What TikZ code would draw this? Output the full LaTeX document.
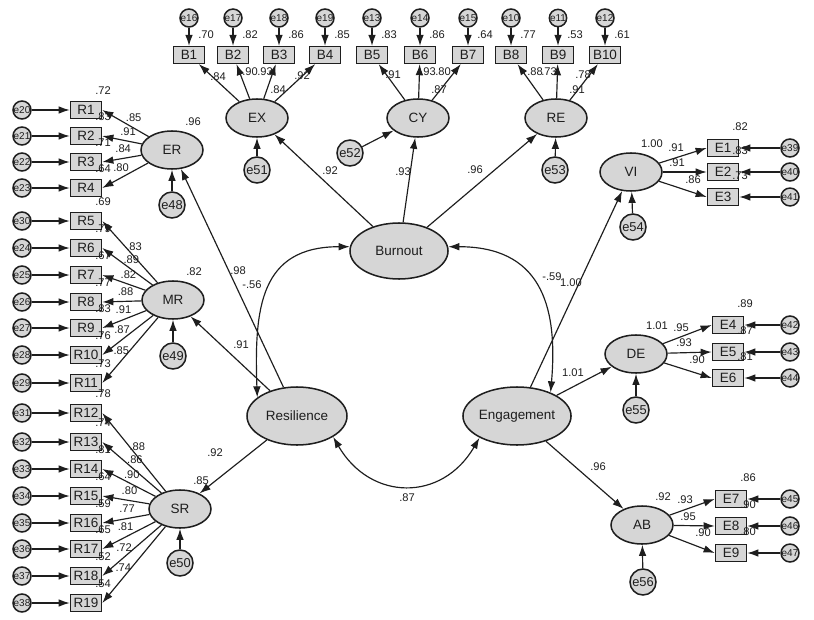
\documentclass[tikz,border=0pt]{standalone}
\usepackage{fontspec}
\setmainfont{Liberation Sans}
\usepackage{tikz}
\usetikzlibrary{shapes,arrows.meta,calc}
\definecolor{semfill}{RGB}{214,214,214}
\definecolor{semink}{RGB}{30,30,30}
\tikzset{
  lat/.style={ellipse,draw,line width=1.3pt,fill=semfill,inner sep=0pt,minimum width=1.86cm,minimum height=1.14cm,font=\fontsize{11.5}{12}\selectfont},
  big/.style={minimum width=3cm,minimum height=1.74cm},
  obs/.style={rectangle,draw,line width=1.3pt,fill=semfill,minimum width=0.93cm,minimum height=0.5cm,inner sep=0pt,font=\fontsize{11.5}{12}\selectfont},
  err/.style={circle,draw,line width=1.3pt,fill=semfill,minimum size=0.51cm,inner sep=0pt,font=\fontsize{8.5}{9}\selectfont},
  dist/.style={circle,draw,line width=1.3pt,fill=semfill,minimum size=0.78cm,inner sep=0pt,font=\fontsize{11}{12}\selectfont},
  num/.style={inner sep=0pt,font=\fontsize{9.5}{10}\selectfont}
}

\begin{document}
\begin{tikzpicture}[x=0.03cm,y=-0.03cm,->,>={Latex[length=9.5pt,width=6.5pt]},line width=1pt,draw=semink,text=semink]
\useasboundingbox (0,0) rectangle (814,620);

\node[lat,minimum width=2.94cm,minimum height=1.68cm] (Burnout) at (399,251) {Burnout};
\node[lat,big] (Resilience) at (297,416) {Resilience};
\node[lat,big] (Engagement) at (517,416) {Engagement};

\node[lat] (EX) at (257,118) {EX};
\node[lat] (CY) at (418,118) {CY};
\node[lat] (RE) at (556,118) {RE};
\node[lat] (ER) at (172,150) {ER};
\node[lat] (MR) at (173,300) {MR};
\node[lat] (SR) at (180,509) {SR};
\node[lat] (VI) at (631,172) {VI};
\node[lat] (DE) at (636,354) {DE};
\node[lat] (AB) at (642,525) {AB};

\node[dist] (e48) at (172,205) {e48};
\node[dist] (e49) at (173,356) {e49};
\node[dist] (e50) at (180,563) {e50};
\node[dist] (e51) at (257,170) {e51};
\node[dist] (e52) at (350,153) {e52};
\node[dist] (e53) at (555,170) {e53};
\node[dist] (e54) at (633,227) {e54};
\node[dist] (e55) at (636,410) {e55};
\node[dist] (e56) at (643,582) {e56};

\path (e48) edge (ER) (e49) edge (MR) (e50) edge (SR)
      (e51) edge (EX) (e52) edge (CY) (e53) edge (RE)
      (e54) edge (VI) (e55) edge (DE) (e56) edge (AB);
\path (Burnout) edge (EX) edge (CY) edge (RE)
      (Resilience) edge (ER) edge (MR) edge (SR)
      (Engagement) edge (VI) edge (DE) edge (AB);
\path[<->] (Resilience.155) edge[out=92,in=180,looseness=1.3] (Burnout.175)
      (Burnout.5) edge[out=0,in=85,looseness=1.3] (Engagement.35)
      (Resilience.-30) edge[out=-60,in=240,looseness=1.3] (Engagement.210);

\foreach \bi/\bx/\en/\rs in {1/189/16/.70,2/233/17/.82,3/279/18/.86,4/325/19/.85,5/372/13/.83,6/420/14/.86,7/468/15/.64,8/511/10/.77,9/558/11/.53,10/605/12/.61}{
  \node[obs] (B\bi) at (\bx,55) {B\bi};
  \node[err] (e\en) at (\bx,18) {e\en};
  \draw (e\en) -- (B\bi);
  \node[num] at (\bx+17,35) {\rs};
}
\foreach \fa/\bi/\dx/\dy/\ld in {EX/1/-39/-41/.84,EX/2/-7/-46/.90,EX/3/8/-46/.93,EX/4/45/-42/.92,CY/5/-25/-43/.91,CY/6/10/-46/.93,CY/7/25/-46/.80,RE/8/-21/-46/.88,RE/9/-7/-46/.73,RE/10/27/-43/.78}{
  \draw (\fa) -- (B\bi);
  \node[num] at ([shift={(\dx,\dy)}]\fa.center) {\ld};
}

\foreach \ri/\ry/\en/\fa/\fr/\ld/\rs in {1/110/20/ER/.45/.85/.72,2/136/21/ER/.37/.91/.83,3/162/22/ER/.3/.84/.71,4/188/23/ER/.27/.80/.64,
  5/221/30/MR/.45/.83/.69,6/248/24/MR/.41/.89/.79,7/275/25/MR/.37/.82/.67,8/302/26/MR/.33/.88/.77,9/328/27/MR/.3/.91/.83,10/355/28/MR/.28/.87/.76,11/383/29/MR/.27/.85/.73,
  12/413/31/SR/.45/.88/.78,13/442/32/SR/.42/.86/.74,14/469/33/SR/.38/.90/.81,15/496/34/SR/.35/.80/.64,16/523/35/SR/.32/.77/.59,17/549/36/SR/.3/.81/.65,18/576/37/SR/.28/.72/.52,19/603/38/SR/.27/.74/.54}{
  \node[obs] (R\ri) at (86,\ry) {R\ri};
  \node[err] (e\en) at (22,\ry) {e\en};
  \draw (e\en) -- (R\ri);
  \draw (\fa) -- (R\ri.east);
  \node[num] at ($(R\ri.east)!\fr!(\fa.center)+(0,-10)$) {\ld};
  \node[num] at (103,\ry-19) {\rs};
}

\foreach \ei/\ex/\ey/\en/\fa/\dx/\dy/\ld/\rs in {1/723/148/39/VI/45/-24/.91/.82,2/723/172/40/VI/46/-9/.91/.83,3/723/197/41/VI/62/8/.86/.73,
  4/728/325/42/DE/45/-26/.95/.89,5/728/352/43/DE/48/-11/.93/.87,6/728/378/44/DE/61/6/.90/.81,
  7/731/499/45/AB/43/-25/.93/.86,8/731/526/46/AB/46/-8/.95/.90,9/731/553/47/AB/61/8/.90/.80}{
  \node[obs] (E\ei) at (\ex,\ey) {E\ei};
  \node[err] (e\en) at (790,\ey) {e\en};
  \draw (e\en) -- (E\ei);
  \draw (\fa) -- (E\ei.west);
  \node[num] at ([shift={(\dx,\dy)}]\fa.center) {\ld};
  \node[num] at (\ex+17,\ey-21) {\rs};
}

\foreach \fa/\rs in {ER/.96,MR/.82,SR/.85,EX/.84,CY/.87,RE/.91,VI/1.00,DE/1.01,AB/.92}{
  \node[num] at ([shift={(21,-28)}]\fa.center) {\rs};
}

\node[num] at (330,171) {.92};
\node[num] at (403,172) {.93};
\node[num] at (475,170) {.96};
\node[num] at (238,271) {.98};
\node[num] at (252,285) {-.56};
\node[num] at (241,345) {.91};
\node[num] at (215,453) {.92};
\node[num] at (552,277) {-.59};
\node[num] at (571,283) {1.00};
\node[num] at (573,373) {1.01};
\node[num] at (598,467) {.96};
\node[num] at (407,498) {.87};
\end{tikzpicture}
\end{document}
